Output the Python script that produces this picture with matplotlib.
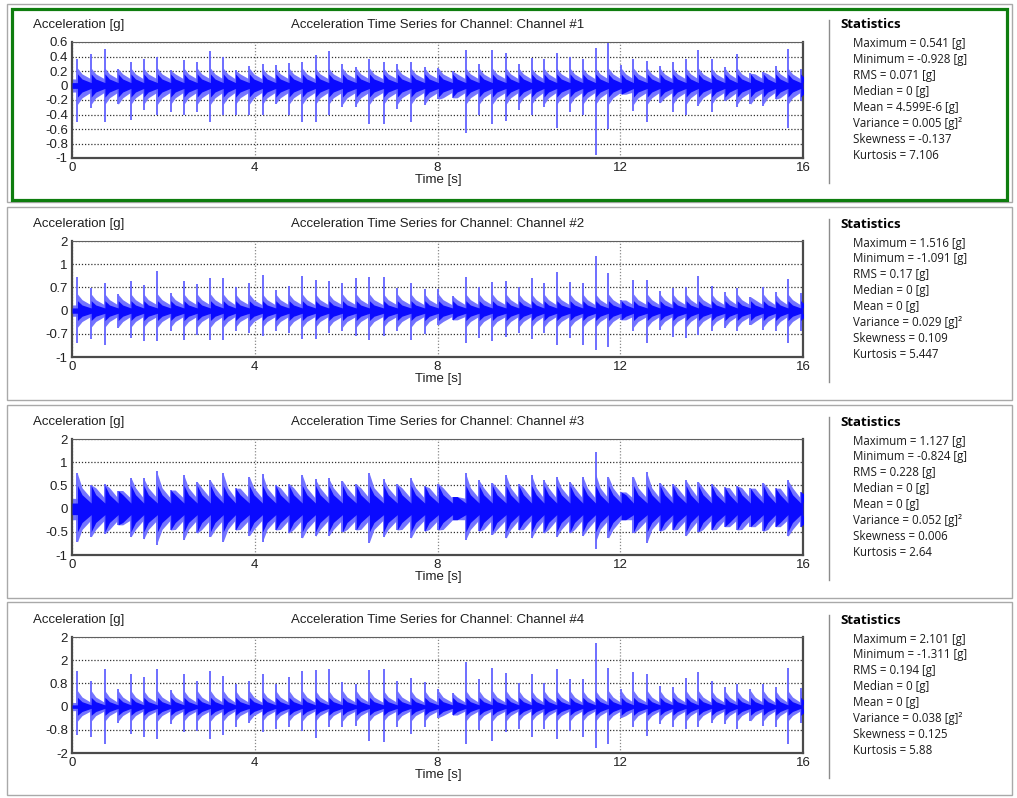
"""Four-channel acceleration time series with a statistics column per channel."""
import numpy as np
import matplotlib
matplotlib.use("Agg")
import matplotlib.pyplot as plt
from matplotlib.patches import Rectangle

W, H = 1017, 798

# impact times (s), shared by all four channels
T_IMPACT = [0.12, 0.42, 0.72, 1.01, 1.29, 1.57, 1.87, 2.16, 2.45, 2.74,
            3.03, 3.31, 3.58, 3.88, 4.17, 4.46, 4.75, 5.04, 5.33, 5.62,
            5.92, 6.22, 6.51, 6.82, 7.12, 7.42, 7.72,
            8.02, 8.33, 8.62, 8.91, 9.20, 9.50, 9.78, 10.06, 10.33, 10.61,
            10.90, 11.18, 11.46, 11.74, 12.02, 12.29, 12.59, 12.87, 13.15, 13.44,
            13.71, 14.00, 14.29, 14.56, 14.85, 15.13, 15.40, 15.67, 15.95]

# spike tips per impact [g]
CH1_HI = [0.37, 0.43, 0.51, 0.23, 0.32, 0.37, 0.40, 0.21, 0.35, 0.32,
          0.48, 0.40, 0.21, 0.27, 0.30, 0.28, 0.31, 0.32, 0.42, 0.47,
          0.30, 0.25, 0.37, 0.33, 0.29, 0.33, 0.26,
          0.24, 0.20, 0.49, 0.30, 0.49, 0.45, 0.30, 0.38, 0.37, 0.45,
          0.40, 0.36, 0.52, 0.58, 0.28, 0.36, 0.34, 0.27, 0.32, 0.36,
          0.49, 0.36, 0.25, 0.43, 0.17, 0.19, 0.27, 0.51, 0.23]
CH1_LO = [-0.50, -0.31, -0.51, -0.26, -0.47, -0.34, -0.41, -0.37, -0.40, -0.36,
          -0.51, -0.40, -0.40, -0.41, -0.41, -0.25, -0.41, -0.51, -0.51, -0.41,
          -0.30, -0.30, -0.53, -0.53, -0.32, -0.50, -0.27,
          -0.19, -0.17, -0.66, -0.40, -0.53, -0.49, -0.34, -0.41, -0.30, -0.59,
          -0.36, -0.40, -0.96, -0.60, -0.12, -0.35, -0.50, -0.24, -0.36, -0.40,
          -0.28, -0.36, -0.21, -0.30, -0.26, -0.28, -0.19, -0.59, -0.21]
CH2_HI = [1.02, 0.67, 0.82, 0.49, 0.89, 0.77, 1.19, 0.52, 0.89, 0.79,
          0.97, 0.99, 0.72, 0.82, 1.07, 0.62, 0.75, 1.05, 0.92, 0.89,
          0.82, 0.99, 1.02, 1.02, 0.67, 0.82, 0.65,
          0.65, 0.45, 1.02, 0.72, 0.85, 0.89, 0.72, 0.97, 0.82, 1.15,
          0.87, 0.82, 1.65, 1.12, 0.32, 0.92, 0.92, 0.59, 0.69, 0.72,
          1.05, 0.75, 0.57, 0.69, 0.42, 0.72, 0.57, 0.95, 0.52]
CH2_LO = [-0.98, -0.85, -1.03, -0.53, -0.83, -0.93, -0.93, -0.63, -0.88, -0.73,
          -0.88, -0.88, -0.63, -0.68, -0.78, -0.63, -0.68, -0.85, -0.85, -0.68,
          -0.63, -0.78, -0.88, -0.78, -0.63, -0.88, -0.71,
          -0.43, -0.28, -0.98, -0.83, -0.91, -0.81, -0.68, -0.85, -0.68, -1.05,
          -0.83, -1.03, -1.18, -1.11, -0.28, -0.63, -0.98, -0.58, -0.81, -0.83,
          -0.73, -0.63, -0.53, -0.63, -0.43, -0.58, -0.63, -0.98, -0.63]
CH3_HI = [0.76, 0.51, 0.53, 0.39, 0.67, 0.65, 0.81, 0.40, 0.72, 0.58,
          0.61, 0.77, 0.44, 0.69, 0.74, 0.51, 0.54, 0.72, 0.63, 0.65,
          0.60, 0.53, 0.77, 0.63, 0.53, 0.65, 0.49,
          0.54, 0.26, 0.77, 0.61, 0.56, 0.72, 0.54, 0.72, 0.61, 0.69,
          0.58, 0.69, 1.21, 0.69, 0.36, 0.69, 0.79, 0.56, 0.54, 0.61,
          0.58, 0.53, 0.46, 0.49, 0.44, 0.56, 0.44, 0.61, 0.36]
CH3_LO = [-0.73, -0.61, -0.54, -0.35, -0.61, -0.66, -0.78, -0.46, -0.67, -0.53,
          -0.61, -0.71, -0.46, -0.59, -0.71, -0.46, -0.53, -0.64, -0.60, -0.59,
          -0.51, -0.46, -0.74, -0.61, -0.46, -0.64, -0.49,
          -0.46, -0.24, -0.67, -0.49, -0.56, -0.64, -0.46, -0.64, -0.53, -0.61,
          -0.53, -0.59, -0.87, -0.64, -0.24, -0.53, -0.74, -0.49, -0.46, -0.59,
          -0.51, -0.46, -0.39, -0.46, -0.39, -0.49, -0.39, -0.60, -0.39]
CH4_HI = [1.22, 0.88, 1.28, 0.59, 1.11, 1.02, 1.28, 0.56, 1.13, 0.88,
          1.22, 1.05, 0.79, 0.88, 1.11, 0.77, 1.02, 1.22, 1.25, 1.31,
          0.86, 0.77, 1.25, 1.28, 0.88, 0.97, 0.86,
          0.59, 0.48, 1.54, 0.94, 1.34, 1.17, 0.82, 1.13, 0.82, 1.28,
          0.94, 0.94, 2.19, 1.34, 0.59, 1.20, 1.13, 0.71, 0.67, 0.99,
          1.20, 0.88, 0.67, 0.77, 0.59, 0.79, 0.67, 1.34, 0.63]
CH4_LO = [-0.97, -1.06, -1.29, -0.55, -0.95, -1.06, -1.12, -0.61, -0.89, -0.83,
          -1.12, -0.97, -0.72, -0.55, -0.89, -0.78, -0.72, -0.83, -1.09, -0.72,
          -0.72, -0.66, -1.18, -1.23, -0.72, -0.95, -0.72,
          -0.38, -0.29, -1.29, -0.81, -1.20, -0.86, -0.78, -1.06, -0.78, -1.12,
          -0.83, -1.06, -1.43, -1.29, -0.38, -0.72, -1.01, -0.61, -0.72, -0.78,
          -0.72, -0.55, -0.61, -0.78, -0.51, -0.66, -0.70, -1.29, -0.55]

# ringing envelope read at three moments of each burst:
# [hi, lo] just after impact, [hi, lo] RING_T seconds later, [hi, lo] just before next impact
RING_T = 0.10
CH1_BODY = [0.24, -0.26, 0.16, -0.17, 0.09, -0.09]
CH2_BODY = [0.50, -0.50, 0.33, -0.33, 0.17, -0.17]
CH3_BODY = [0.75, -0.72, 0.45, -0.45, 0.22, -0.24]
CH4_BODY = [0.55, -0.50, 0.33, -0.31, 0.14, -0.14]
# dense (dark) core of the same ringing
CH1_CORE = [0.16, -0.16, 0.09, -0.09, 0.04, -0.04]
CH2_CORE = [0.30, -0.30, 0.17, -0.17, 0.08, -0.08]
CH3_CORE = [0.50, -0.50, 0.30, -0.30, 0.12, -0.13]
CH4_CORE = [0.32, -0.30, 0.17, -0.17, 0.06, -0.06]

Y_LIMS = [(-1.0, 0.6), (-1.4, 2.1), (-1.0, 1.5), (-1.6, 2.4)]
Y_TICKS = [[-1.0, -0.8, -0.6, -0.4, -0.2, 0, 0.2, 0.4, 0.6],
           [-1.4, -0.7, 0, 0.7, 1.4, 2.1],
           [-1.0, -0.5, 0, 0.5, 1.0, 1.5],
           [-1.6, -0.8, 0, 0.8, 1.6, 2.4]]
Y_LABELS = [["-1", "-0.8", "-0.6", "-0.4", "-0.2", "0", "0.2", "0.4", "0.6"],
            ["-1", "-0.7", "0", "0.7", "1", "2"],
            ["-1", "-0.5", "0", "0.5", "1", "2"],
            ["-2", "-0.8", "0", "0.8", "2", "2"]]
X_TICKS = [0, 4, 8, 12, 16]

STAT_NAMES = ["Maximum", "Minimum", "RMS", "Median", "Mean", "Variance", "Skewness", "Kurtosis"]
STAT_UNITS = ["[g]", "[g]", "[g]", "[g]", "[g]", "[g]\u00b2", "", ""]
CH1_STATS = ["0.541", "-0.928", "0.071", "0", "4.599E-6", "0.005", "-0.137", "7.106"]
CH2_STATS = ["1.516", "-1.091", "0.17", "0", "0", "0.029", "0.109", "5.447"]
CH3_STATS = ["1.127", "-0.824", "0.228", "0", "0", "0.052", "0.006", "2.64"]
CH4_STATS = ["2.101", "-1.311", "0.194", "0", "0", "0.038", "0.125", "5.88"]

channels = [
    (CH1_HI, CH1_LO, CH1_BODY, CH1_CORE, CH1_STATS),
    (CH2_HI, CH2_LO, CH2_BODY, CH2_CORE, CH2_STATS),
    (CH3_HI, CH3_LO, CH3_BODY, CH3_CORE, CH3_STATS),
    (CH4_HI, CH4_LO, CH4_BODY, CH4_CORE, CH4_STATS),
]

ARIAL = "Liberation Sans"
STATFONT = "Open Sans"
PLOT_TOP = [42, 241, 439, 637]     # px
PLOT_H = 116
PLOT_X0, PLOT_X1 = 72, 803
FRAME_TOP = [4, 207, 405, 602]


def burst_edge(times, start, mid, tail, t_end=16.0):
    """One envelope edge: jump to the read value at each impact, ring down via mid to tail."""
    xs, ys = [0.0], [tail]
    for i, t0 in enumerate(times):
        t1 = times[i + 1] if i + 1 < len(times) else t_end
        m = mid if abs(mid) < abs(start[i]) else start[i]
        xs += [t0, t0, t0 + RING_T, t1]
        ys += [tail, start[i], m, tail]
    return xs, ys


def envelope(hi, lo, levels):
    xs, up = burst_edge(T_IMPACT, np.minimum(hi, levels[0]), levels[2], levels[4])
    _, dn = burst_edge(T_IMPACT, np.maximum(lo, levels[1]), levels[3], levels[5])
    return xs, dn, up


fig = plt.figure(figsize=(W / 100, H / 100), dpi=100)
fig.patch.set_facecolor("white")
bg = fig.add_axes([0, 0, 1, 1])
bg.set_xlim(0, W); bg.set_ylim(H, 0); bg.axis("off")

for i, ft in enumerate(FRAME_TOP):
    bg.add_patch(Rectangle((7, ft), W - 12, 193 if i else 198, fill=False, ec="#a9a9a9", lw=1.0))
bg.add_patch(Rectangle((12, 9), W - 22, 191, fill=False, ec="#0e7d0e", lw=2.3))

for i, (hi, lo, body, core, stats) in enumerate(channels):
    top = PLOT_TOP[i]
    ax = fig.add_axes([PLOT_X0 / W, 1 - (top + PLOT_H) / H, (PLOT_X1 - PLOT_X0) / W, PLOT_H / H])
    hi = np.array(hi); lo = np.array(lo)

    xs, dn, up = envelope(hi, lo, body)
    ax.fill_between(xs, dn, up, color="#7474ff", lw=0, zorder=2)
    ax.vlines(T_IMPACT, lo, hi, colors="#6262ff", lw=1.3, zorder=3)
    xs, dn, up = envelope(hi, lo, core)
    ax.fill_between(xs, dn, up, color="#0a0aff", lw=0, zorder=4)

    ax.set_xlim(0, 16); ax.set_ylim(*Y_LIMS[i])
    ax.set_xticks(X_TICKS); ax.set_xticklabels([str(v) for v in X_TICKS])
    ax.set_yticks(Y_TICKS[i]); ax.set_yticklabels(Y_LABELS[i])
    ax.tick_params(length=0, labelsize=9.5, pad=3)
    for lab in ax.get_xticklabels() + ax.get_yticklabels():
        lab.set_family(ARIAL); lab.set_color("#202020")
    ax.grid(True, axis="y", ls=(0, (1, 1.5)), color="#303030", lw=0.9, zorder=1)
    ax.grid(True, axis="x", ls=(0, (1, 1.5)), color="#8a8a8a", lw=0.9, zorder=1)
    for side in ("left", "bottom", "right"):
        ax.spines[side].set_color("#4a4a4a"); ax.spines[side].set_linewidth(1.6)
    ax.spines["top"].set_color("#606060"); ax.spines["top"].set_linewidth(0.8)

    bottom = top + PLOT_H
    bg.text(33, top - 17, "Acceleration [g]", family=ARIAL, fontsize=9.5, ha="left", va="center", color="#202020")
    bg.text(438, top - 17, f"Acceleration Time Series for Channel: Channel #{i + 1}",
            family=ARIAL, fontsize=9.5, ha="center", va="center", color="#202020")
    bg.text(438, bottom + 22, "Time [s]", family=ARIAL, fontsize=9.5, ha="center", va="center", color="#202020")

    # statistics column
    bg.plot([829, 829], [top - 22, top + 141], color="#8c8c8c", lw=1.0)
    bg.text(840, top - 17, "Statistics", family=STATFONT, fontsize=9.5, weight="bold", ha="left", va="center")
    for k, (name, val, unit) in enumerate(zip(STAT_NAMES, stats, STAT_UNITS)):
        txt = f"{name} = {val}" + (f" {unit}" if unit else "")
        bg.text(853, top + 2 + 15.9 * k, txt, family=STATFONT, fontsize=8.3, ha="left", va="center", color="#1a1a1a")

fig.savefig("out.png", dpi=100)
